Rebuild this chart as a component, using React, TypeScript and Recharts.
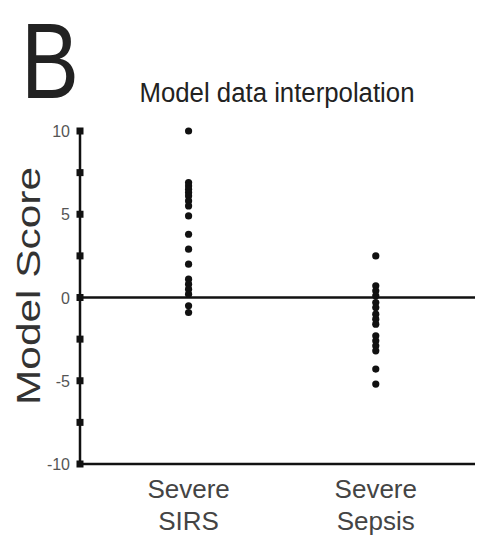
import { ScatterChart, Scatter, XAxis, YAxis, ReferenceLine } from "recharts";

const groups = ["Severe SIRS", "Severe Sepsis"];
const groupX = [1, 2];
const yTicks = [-10, -7.5, -5, -2.5, 0, 2.5, 5, 7.5, 10];

const sirsScores = [
  10, 6.9, 6.7, 6.5, 6.3, 6.1, 5.8, 5.5, 4.9, 3.8, 2.9, 2.0, 1.1, 0.8, 0.5, 0.2, -0.5, -0.9,
];
const sepsisScores = [
  2.5, 0.7, 0.4, 0.1, -0.3, -0.6, -1.0, -1.3, -1.6, -2.3, -2.6, -2.9, -3.2, -4.3, -5.2,
];

const sirsData = sirsScores.map((y) => ({ x: groupX[0], y }));
const sepsisData = sepsisScores.map((y) => ({ x: groupX[1], y }));

const font = "'Liberation Sans', Arial, sans-serif";

const YTick = (props: any) => {
  const { x, y, payload } = props;
  const v = payload.value;
  return (
    <g>
      <rect x={x - 3.5} y={y - 3.5} width={7} height={7} fill="#111" />
      {v % 5 === 0 && (
        <text
          x={x - 10}
          y={y}
          dy={6}
          textAnchor="end"
          fontSize={16}
          fill="#555"
          fontFamily={font}
        >
          {v}
        </text>
      )}
    </g>
  );
};

const XTick = (props: any) => {
  const { x, y, payload } = props;
  const idx = groupX.indexOf(payload.value);
  const [l1, l2] = groups[idx].split(" ");
  return (
    <g fontFamily={font} fontSize={26} fill="#444" textAnchor="middle">
      <text x={x} y={y + 32}>{l1}</text>
      <text x={x} y={y + 64}>{l2}</text>
    </g>
  );
};

const Dot = (props: any) => <circle cx={props.cx} cy={props.cy} r={3.6} fill="#111" />;

export default function App() {
  return (
    <div style={{ position: "absolute", left: 0, top: 0, width: 488, height: 548, background: "#fff" }}>
      <ScatterChart width={488} height={548} margin={{ top: 131, right: 13, left: 0, bottom: 0 }}>
        <XAxis
          type="number"
          dataKey="x"
          domain={[0.42, 2.53]}
          ticks={groupX}
          height={84}
          tickLine={false}
          tickSize={0}
          axisLine={{ stroke: "#111", strokeWidth: 2.5 }}
          tick={<XTick />}
          interval={0}
        />
        <YAxis
          type="number"
          dataKey="y"
          domain={[-10, 10]}
          ticks={yTicks}
          width={80}
          tickLine={false}
          tickSize={0}
          tickMargin={0}
          interval={0}
          axisLine={{ stroke: "#111", strokeWidth: 2.5 }}
          tick={<YTick />}
        />
        <ReferenceLine y={0} stroke="#111" strokeWidth={2.5} />
        <Scatter data={sirsData} shape={<Dot />} isAnimationActive={false} />
        <Scatter data={sepsisData} shape={<Dot />} isAnimationActive={false} />
      </ScatterChart>
      <svg
        width={488}
        height={548}
        style={{ position: "absolute", left: 0, top: 0, pointerEvents: "none" }}
      >
        <text
          x={21}
          y={98}
          fontSize={108}
          fill="#222"
          fontFamily={font}
          textLength={58}
          lengthAdjust="spacingAndGlyphs"
        >
          B
        </text>
        <text
          x={277}
          y={102}
          fontSize={27}
          fill="#222"
          fontFamily={font}
          textAnchor="middle"
          textLength={275}
          lengthAdjust="spacingAndGlyphs"
        >
          Model data interpolation
        </text>
        <text
          x={40}
          y={286}
          transform="rotate(-90 40 286)"
          fontSize={34}
          fill="#333"
          fontFamily={font}
          textAnchor="middle"
          textLength={238}
          lengthAdjust="spacingAndGlyphs"
        >
          Model Score
        </text>
      </svg>
    </div>
  );
}
